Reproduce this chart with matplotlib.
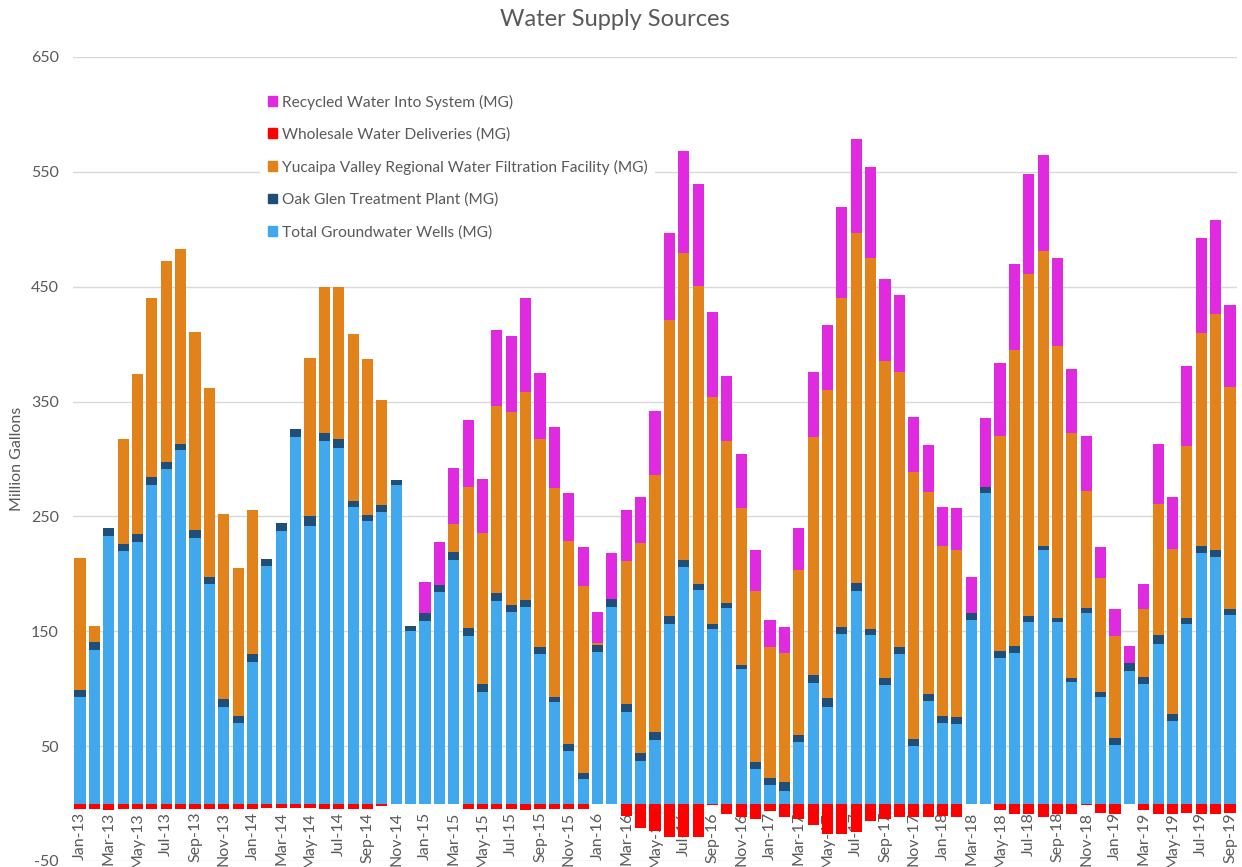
import matplotlib
matplotlib.use("Agg")
import matplotlib.pyplot as plt
from matplotlib.patches import Patch
import numpy as np

plt.rcParams['font.family'] = ['Lato', 'DejaVu Sans']

months = ["Jan-13","Feb-13","Mar-13","Apr-13","May-13","Jun-13","Jul-13","Aug-13","Sep-13","Oct-13","Nov-13","Dec-13",
          "Jan-14","Feb-14","Mar-14","Apr-14","May-14","Jun-14","Jul-14","Aug-14","Sep-14","Oct-14","Nov-14","Dec-14",
          "Jan-15","Feb-15","Mar-15","Apr-15","May-15","Jun-15","Jul-15","Aug-15","Sep-15","Oct-15","Nov-15","Dec-15",
          "Jan-16","Feb-16","Mar-16","Apr-16","May-16","Jun-16","Jul-16","Aug-16","Sep-16","Oct-16","Nov-16","Dec-16",
          "Jan-17","Feb-17","Mar-17","Apr-17","May-17","Jun-17","Jul-17","Aug-17","Sep-17","Oct-17","Nov-17","Dec-17",
          "Jan-18","Feb-18","Mar-18","Apr-18","May-18","Jun-18","Jul-18","Aug-18","Sep-18","Oct-18","Nov-18","Dec-18",
          "Jan-19","Feb-19","Mar-19","Apr-19","May-19","Jun-19","Jul-19","Aug-19","Sep-19"]

groundwater = [93,134,233,220,228,277,291,308,231,191,84,70,
               123,207,237,319,242,316,310,258,246,254,277,150,
               159,184,212,146,97,176,167,171,130,88,46,21,
               132,171,80,37,55,156,206,186,152,170,117,30,
               16,11,54,105,84,148,185,147,103,130,50,89,
               70,69,160,270,127,131,158,221,158,106,166,93,
               51,115,104,139,72,156,218,215,164]

oak_glen = [6,7,7,6,7,7,6,5,7,6,7,6,
            7,6,7,7,8,7,7,5,5,6,5,5,
            7,6,7,7,7,7,6,6,6,5,6,6,
            6,7,7,7,7,7,6,5,4,5,4,6,
            6,8,6,7,8,6,7,5,6,6,6,6,
            6,6,6,6,6,6,5,3,4,3,4,4,
            6,7,6,8,6,6,6,6,5]

yucaipa = [115,14,0,91,139,156,175,170,173,165,161,129,
           126,0,0,0,138,127,133,146,136,91,0,0,
           0,0,24,123,132,163,168,181,181,182,177,162,
           2,0,124,183,224,258,267,260,198,141,136,149,
           114,112,143,207,268,286,305,323,276,240,233,176,
           148,146,0,0,187,258,298,257,236,214,102,99,
           89,0,59,114,144,149,186,205,194]

wholesale = [-4.4,-4.4,-5.5,-4.4,-4.4,-4.4,-4.4,-4.4,-4.4,-4.4,-4.4,-4.4,
             -4.4,-3.5,-3.5,-3.5,-3.5,-4.4,-4.4,-4.4,-4.4,-2.5,0,0,
             0,0,0,-4.4,-4.4,-4.4,-4.4,-6,-4.4,-4.4,-4.4,-4.4,
             0,0,-11,-21,-24,-29,-29,-29,-1.5,-8.7,-11.3,-13.6,
             -6.7,-11.6,-13.6,-18.9,-26.7,-26.7,-25,-14.8,-13,-12,-12,-12,
             -11,-11.6,0,0,-5.5,-9.3,-9.3,-11.6,-9.3,-8.7,-1.5,-7.8,
             -8.7,0,-5.5,-8.7,-8.7,-7.8,-8.7,-8.7,-7.8]

recycled = [0,0,0,0,0,0,0,0,0,0,0,0,
            0,0,0,0,0,0,0,0,0,0,0,0,
            27,38,49,58,47,66,66,82,58,53,41,34,
            27,40,45,40,56,76,89,88,74,56,47,36,
            24,23,37,57,57,79,82,79,72,67,48,41,
            34,36,31,60,64,75,87,84,77,55,48,27,
            23,15,22,52,45,70,82,82,71]

series_labels = ["Total Groundwater Wells (MG)", "Oak Glen Treatment Plant (MG)",
                 "Yucaipa Valley Regional Water Filtration Facility (MG)",
                 "Wholesale Water Deliveries (MG)", "Recycled Water Into System (MG)"]
colors = ["#41A8EE", "#1F4E79", "#E2821A", "#FF0000", "#E02AE0"]

y_ticks = [-50, 50, 150, 250, 350, 450, 550, 650]

fig = plt.figure(figsize=(12.42, 8.67), dpi=100)
ax = fig.add_axes([72.8/1242, 6/867, (1237.2-72.8)/1242, (861-57)/867])

# axis positioning first (this resets ticks)
ax.spines['bottom'].set_position(('data', 0))
for s in ['top', 'right', 'left']:
    ax.spines[s].set_visible(False)
ax.spines['bottom'].set_color('none')

x = np.arange(len(months))
gw = np.array(groundwater, float)
og = np.array(oak_glen, float)
yu = np.array(yucaipa, float)
rc = np.array(recycled, float)
wh = np.array(wholesale, float)
w = 0.78

ax.bar(x, gw, width=w, color=colors[0], zorder=2)
ax.bar(x, og, width=w, bottom=gw, color=colors[1], zorder=2)
ax.bar(x, yu, width=w, bottom=gw+og, color=colors[2], zorder=2)
ax.bar(x, rc, width=w, bottom=gw+og+yu, color=colors[4], zorder=2)
ax.bar(x, wh, width=w, color=colors[3], zorder=2)

ax.set_xlim(-0.5, len(months)-0.5)
ax.set_ylim(-50, 650)
ax.set_yticks(y_ticks)
ax.set_yticklabels([str(v) for v in y_ticks])
ax.grid(axis='y', color='#D9D9D9', linewidth=1.0, zorder=0)
ax.set_axisbelow(True)

ax.set_xticks(x[::2])
ax.set_xticklabels(months[::2])
ax.tick_params(axis='x', length=0, pad=6, labelsize=11.5, labelcolor='#595959', labelrotation=90)
ax.tick_params(axis='y', length=0, pad=10, labelsize=11.5, labelcolor='#595959')
for lbl in ax.get_xticklabels():
    lbl.set_va('top')
    lbl.set_ha('center')

fig.text(17/1242, 1 - 459/867, "Million Gallons", rotation=90, ha='center', va='center',
         fontsize=11.5, color='#595959')
fig.text(615/1242, 1 - 20/867, "Water Supply Sources", ha='center', va='center', fontsize=17, color='#595959')

handles = [Patch(color=colors[4]), Patch(color=colors[3]), Patch(color=colors[2]),
           Patch(color=colors[1]), Patch(color=colors[0])]
labels = [series_labels[4], series_labels[3], series_labels[2], series_labels[1], series_labels[0]]
leg = ax.legend(handles, labels, loc='upper left', bbox_to_anchor=(252/1242, 1 - 79/867),
                bbox_transform=fig.transFigure, frameon=True, fancybox=False, edgecolor='none',
                facecolor='white', framealpha=1, fontsize=11.2, handlelength=0.6, handleheight=0.6,
                handletextpad=0.3, labelspacing=1.15, borderpad=0.5)
for t in leg.get_texts():
    t.set_color('#595959')
leg.set_zorder(1.5)

fig.savefig("out.png", dpi=100)
